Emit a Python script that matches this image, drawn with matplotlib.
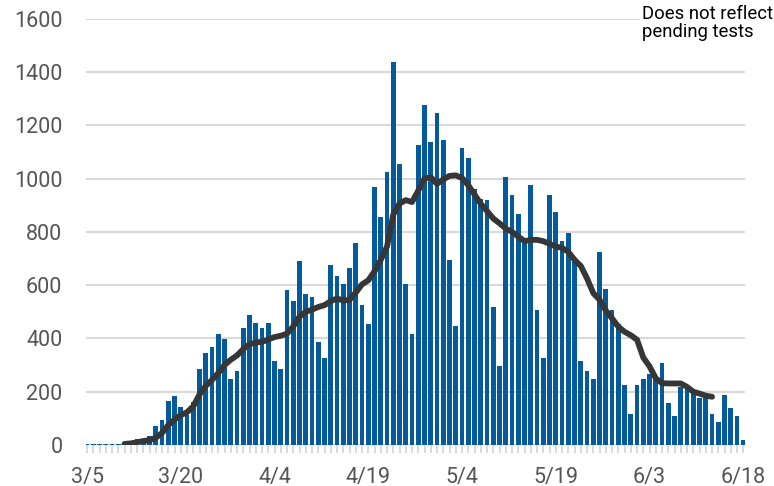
import matplotlib
matplotlib.use("Agg")
import matplotlib.pyplot as plt
from matplotlib.ticker import FixedLocator, MultipleLocator

plt.rcParams["font.family"] = ["Roboto", "DejaVu Sans"]

# daily new cases, one value per day from 3/5 to 6/18
daily_cases = [
    3, 3, 3, 3, 3, 3, 8, 12, 22, 24,
    33, 73, 95, 165, 185, 143, 113, 163, 286, 347,
    367, 417, 397, 246, 276, 438, 488, 458, 438, 458,
    316, 286, 580, 539, 690, 567, 556, 386, 326, 677,
    636, 606, 666, 757, 526, 456, 967, 857, 1026, 1436,
    1056, 606, 416, 1126, 1277, 1137, 1247, 1146, 696, 446,
    1116, 1076, 962, 925, 918, 517, 297, 1007, 937, 867,
    775, 977, 506, 327, 937, 876, 766, 796, 694, 316,
    276, 246, 726, 587, 506, 456, 227, 116, 227, 247,
    266, 255, 307, 157, 107, 217, 217, 200, 177, 177,
    117, 87, 187, 137, 107, 17,
]

# rolling average line, starts on day 6 (3/11) and ends on day 100 (6/13)
avg_start = 6
avg_cases = [
    4, 6, 10, 15, 18, 27, 45, 75, 95, 112,
    123, 145, 190, 222, 244, 270, 300, 320, 336, 360,
    378, 385, 387, 396, 405, 410, 418, 445, 482, 500,
    508, 518, 525, 540, 550, 542, 545, 572, 603, 618,
    652, 695, 745, 865, 906, 919, 912, 955, 1000, 1005,
    980, 997, 1010, 1012, 1002, 975, 940, 905, 878, 850,
    832, 812, 800, 782, 765, 770, 770, 765, 755, 745,
    740, 725, 695, 672, 625, 570, 545, 505, 475, 444,
    425, 412, 395, 328, 295, 250, 232, 231, 231, 231,
    218, 200, 193, 185, 181,
]

date_labels = ["3/5", "3/20", "4/4", "4/19", "5/4", "5/19", "6/3", "6/18"]
label_step = 15

days = list(range(len(daily_cases)))
avg_days = list(range(avg_start, avg_start + len(avg_cases)))

fig = plt.figure(figsize=(7.74, 4.86), dpi=100)
W, H = 774, 486
ax = fig.add_axes([86 / W, (H - 445) / H, (745 - 86) / W, (445 - 18.7) / H])

ax.bar(days, daily_cases, width=0.78, color="#045a9b", zorder=2)
ax.plot(avg_days, avg_cases, color="#363636", linewidth=4.2,
        solid_capstyle="round", solid_joinstyle="round", zorder=3)

ax.set_xlim(-0.16, 105.27)
ax.set_ylim(0, 1600)
ax.set_yticks(range(0, 1601, 200))
ax.set_yticklabels([str(v) for v in range(0, 1601, 200)])

ax.xaxis.set_major_locator(FixedLocator([i * label_step for i in range(len(date_labels))]))
ax.set_xticklabels(date_labels)
ax.xaxis.set_minor_locator(MultipleLocator(1))

ax.tick_params(axis="x", which="both", length=5.5, width=1.1, color="#cfcfcf",
               labelsize=15.5, labelcolor="#555555", pad=10)
ax.tick_params(axis="y", length=0, labelsize=15.5, labelcolor="#555555", pad=17)

for spine in ax.spines.values():
    spine.set_visible(False)

ax.grid(axis="y", color="#d9d9d9", linewidth=1.5, zorder=0)
ax.set_axisbelow(True)

fig.text(642 / W, 1 - 5 / H, "Does not reflect\npending tests", ha="left", va="top",
         fontsize=13.3, color="black", linespacing=1.0,
         bbox=dict(facecolor="white", edgecolor="none", pad=1.5))

fig.savefig("out.png", dpi=100)
